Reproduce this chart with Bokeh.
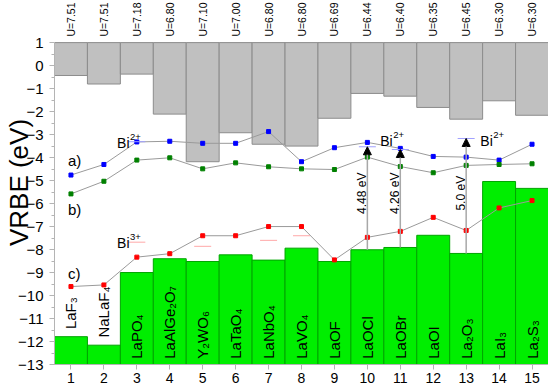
import numpy as np
from bokeh.plotting import figure
from bokeh.models import (Range1d, FixedTicker, ColumnDataSource, Arrow,
                          NormalHead, LinearAxis)
from bokeh.core.properties import value
from bokeh.embed import file_html
from bokeh.resources import INLINE

# ---------------- data ----------------
idx = list(range(1, 16))
compounds = ["LaF₃", "NaLaF₄", "LaPO₄", "LaAlGe₂O₇", "Y₂WO₆", "LaTaO₄", "LaNbO₄",
             "LaVO₄", "LaOF", "LaOCl", "LaOBr", "LaOI", "La₂O₃", "LaI₃", "La₂S₃"]
u_labels = ["U=7.51", "U=7.51", "U=7.18", "U=6.80", "U=7.10", "U=7.00", "U=6.80",
            "U=6.80", "U=6.69", "U=6.44", "U=6.40", "U=6.35", "U=6.45", "U=6.30", "U=6.30"]
cb_bottom = [-0.43, -0.80, -0.37, -2.11, -4.18, -2.92, -3.42, -3.50, -2.29, -1.21,
             -1.33, -1.82, -2.33, -1.53, -2.16]
vb_top = [-11.79, -12.16, -9.00, -8.40, -8.52, -8.23, -8.46, -7.94, -8.52, -8.01,
          -7.91, -7.38, -8.17, -5.04, -5.34]
bi2_a = [-4.76, -4.30, -3.32, -3.29, -3.38, -3.38, -2.87, -4.18, -3.57, -3.34,
         -3.60, -3.95, -3.98, -4.11, -3.42]
bi2_b = [-5.58, -5.03, -4.11, -4.01, -4.49, -4.23, -4.40, -4.49, -4.52, -3.98,
         -4.39, -4.66, -4.34, -4.30, -4.27]
bi3_c = [-9.61, -9.54, -8.33, -8.18, -7.40, -7.40, -7.00, -7.00, -8.45, -7.47,
         -7.21, -6.60, -7.17, -6.19, -5.87]
exp2_x = [3, 10, 11, 13]
exp2_y = [-3.31, -3.53, -3.65, -3.17]
exp3_x = [3, 5, 7, 8]
exp3_y = [-7.68, -7.86, -7.60, -7.40]
arrow_x = [10, 11, 13]
arrow_text = ["4.48 eV", "4.26 eV", "5.0 eV"]
bi_lab_x = [2.40, 2.40, 10.39, 13.43]
bi_lab_y = [-3.35, -7.72, -3.28, -3.28]
bi_lab_charge = ["2+", "3+", "2+", "2+"]
y_ticks = list(range(-13, 2))

# ---------------- layout ----------------
W, H = 548, 385
FRAME_LEFT = 54
AXIS_H = 22                      # bottom-axis height
frame_h = H - AXIS_H
sy = (frame_h - 42) / 14.0       # px per eV (y=1 sits 42px below frame top)
YTOP = 1 + 42 / sy
XR = (0.5, 15.5)
sx = (W - FRAME_LEFT) / (XR[1] - XR[0])

FONT = "Liberation Sans"

p = figure(width=W, height=H, x_range=Range1d(*XR), y_range=Range1d(-13, YTOP),
           output_backend="svg", toolbar_location=None,
           x_axis_type=None, y_axis_type=None,
           min_border_left=FRAME_LEFT, min_border_right=0, min_border_top=0,
           min_border_bottom=0)
p.outline_line_color = None
p.xgrid.visible = False
p.ygrid.visible = False
p.background_fill_color = "white"

yaxis = LinearAxis(ticker=FixedTicker(ticks=y_ticks,
                                      minor_ticks=[t + 0.5 for t in y_ticks[:-1]]),
                   bounds=(-13, 1), axis_label="VRBE (eV)")
yaxis.axis_line_color = "#b4b4b4"
yaxis.major_tick_line_color = "#b4b4b4"
yaxis.minor_tick_line_color = "#b4b4b4"
yaxis.major_tick_out = 5
yaxis.major_tick_in = 0
yaxis.minor_tick_out = 3
yaxis.minor_tick_in = 0
yaxis.major_label_standoff = 6
yaxis.major_label_text_font = FONT
yaxis.major_label_text_font_size = "15px"
yaxis.major_label_text_color = "black"
yaxis.axis_label_text_font = FONT
yaxis.axis_label_text_font_size = "26px"
yaxis.axis_label_text_font_style = "normal"
yaxis.axis_label_text_color = "black"
yaxis.axis_label_standoff = -19
p.add_layout(yaxis, "left")

xaxis = LinearAxis(ticker=FixedTicker(ticks=idx, minor_ticks=[]))
xaxis.axis_line_color = "#b4b4b4"
xaxis.major_tick_line_color = "#b4b4b4"
xaxis.major_tick_out = 5
xaxis.major_tick_in = 0
xaxis.major_label_standoff = 3
xaxis.major_label_text_font = FONT
xaxis.major_label_text_font_size = "14px"
xaxis.major_label_text_color = "black"
p.add_layout(xaxis, "below")

# bars
p.vbar(x=idx, width=1, top=1, bottom=cb_bottom, fill_color="#c0c0c0",
       line_color="#8c8c8c", line_width=1)
p.vbar(x=idx, width=1, bottom=-13, top=vb_top, fill_color="#00ee00",
       line_color="#00a400", line_width=1)

# series lines + points
for ys, col in [(bi2_a, "#0000ff"), (bi2_b, "#008000"), (bi3_c, "#ff0000")]:
    p.line(idx, ys, line_color="#9a9a9a", line_width=1)
    p.scatter(idx, ys, marker="square", size=4, fill_color=col, line_color=col)

# experimental levels (short dashes)
p.scatter(exp2_x, exp2_y, marker="dash", size=17, line_color="#a0a0ff", line_width=1)
p.scatter(exp3_x, exp3_y, marker="dash", size=17, line_color="#ffa8a8", line_width=1)

# arrows VB top -> Bi2+ level
a_start = [vb_top[x - 1] for x in arrow_x]
a_end = [exp2_y[exp2_x.index(x)] for x in arrow_x]
arr_src = ColumnDataSource(dict(x=arrow_x, y0=a_start, y1=a_end))
p.add_layout(Arrow(end=NormalHead(size=8, fill_color="black", line_color="black"),
                   x_start="x", y_start="y0", x_end="x", y_end="y1", source=arr_src,
                   line_color="#a8a8a8", line_width=1.5))
p.text(x=[x - 0.15 for x in arrow_x], y=[-5.55] * len(arrow_x), text=arrow_text,
       angle=np.pi / 2, text_align="center", text_baseline="middle",
       text_font=value(FONT), text_font_size="12px", text_color="black")

# compound labels
lab_y = [(v + 0.33) if v < -11 else -12.75 for v in vb_top]
p.text(x=idx, y=lab_y, text=compounds, angle=np.pi / 2, text_align="left",
       text_baseline="middle", text_font=value(FONT), text_font_size="15px",
       text_color="black")

# U labels above the plot box
p.text(x=idx, y=[1 + 6 / sy] * 15, text=u_labels, angle=np.pi / 2, text_align="left",
       text_baseline="middle", text_font=value(FONT), text_font_size="10.5px",
       text_color="black")

# Bi labels ("Bi" + superscript charge)
p.text(x=bi_lab_x, y=bi_lab_y, text=["Bi"] * len(bi_lab_x),
       text_align="left", text_baseline="alphabetic", text_font=value(FONT),
       text_font_size="14px", text_color="black")
p.text(x=[x + 13 / sx for x in bi_lab_x], y=[y + 6 / sy for y in bi_lab_y],
       text=bi_lab_charge, text_align="left", text_baseline="alphabetic",
       text_font=value(FONT), text_font_size="9.5px", text_color="black")

# series tags
p.text(x=[0.91, 0.91, 0.91], y=[-4.11, -6.25, -9.04], text=["a)", "b)", "c)"],
       text_align="left", text_baseline="middle", text_font=value(FONT),
       text_font_size="15px", text_color="black")

open("out.html", "w").write(file_html(p, INLINE))
